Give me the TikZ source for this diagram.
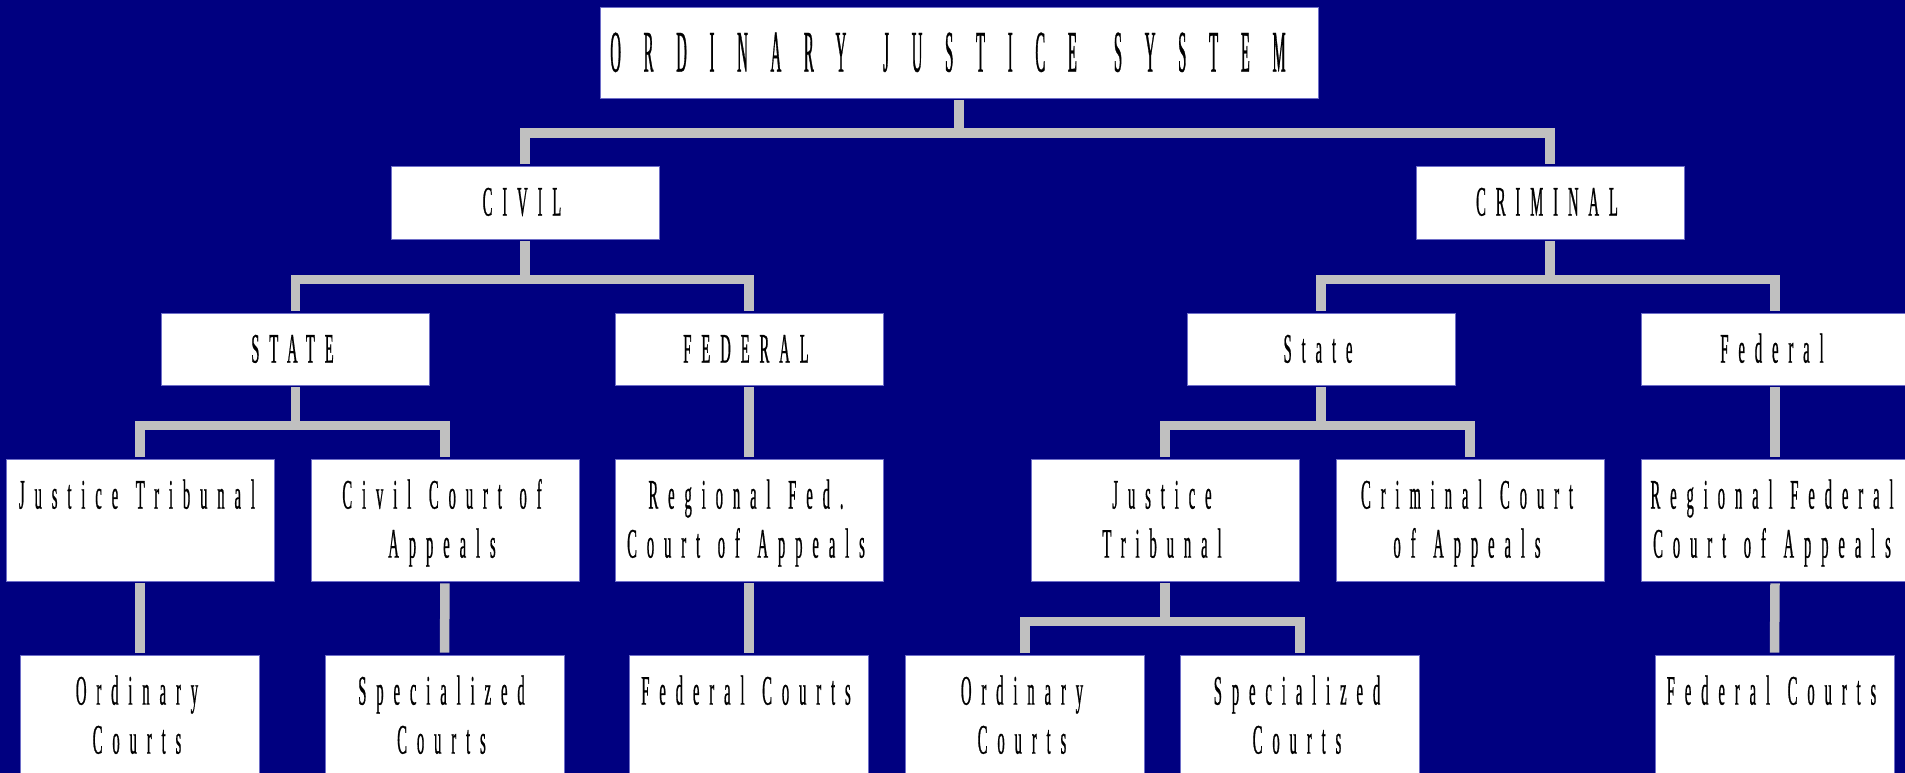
\documentclass[tikz,border=0pt]{standalone}
\usepackage{fontspec}
\setmainfont{Liberation Serif}
\newfontfamily\smallf[FakeStretch=0.35, LetterSpace=23.5, WordSpace=1.3, FakeBold=0.5]{Liberation Serif}
\newfontfamily\bigf[FakeStretch=0.25, LetterSpace=38.5, WordSpace=1.4, FakeBold=0.5]{Liberation Serif}
\definecolor{navybg}{RGB}{0,0,128}
\definecolor{silverline}{RGB}{192,192,192}
\definecolor{boxedge}{RGB}{110,110,200}
\begin{document}
\begin{tikzpicture}[x=1pt,y=-1pt,
  box/.style={fill=white, draw=boxedge, line width=0.8pt, inner sep=0pt, minimum width=268pt},
  midbox/.style={box, minimum height=73pt},
  tallbox/.style={box, minimum height=122pt},
  lowbox/.style={box, minimum width=239pt, minimum height=135pt},
  conn/.style={draw=silverline, line width=9.5pt, line join=miter, line cap=butt, shorten <=2pt, shorten >=2pt},
  lbl/.style={anchor=base, inner sep=0pt, font=\smallf\fontsize{42}{49}\selectfont},
  toplbl/.style={anchor=base, inner sep=0pt, font=\bigf\fontsize{59}{70}\selectfont}]
\useasboundingbox (0,0) rectangle (1905,773);
\clip (0,0) rectangle (1905,773);
\fill[navybg] (0,0) rectangle (1905,773);

% boxes
\node[box, minimum width=718pt, minimum height=91pt] (top) at (959,52.5) {};
\node[midbox] (civil) at (525,202.5) {};
\node[midbox] (criminal) at (1550,202.5) {};
\node[midbox, minimum height=72pt] (cstate) at (295.5,349) {};
\node[midbox, minimum height=72pt] (cfed) at (749,349) {};
\node[midbox, minimum height=72pt] (kstate) at (1321,349) {};
\node[midbox, minimum height=72pt] (kfed) at (1775,349) {};
\node[tallbox] (cjt) at (140,520) {};
\node[tallbox] (ccca) at (445,520) {};
\node[tallbox] (crf) at (749,520) {};
\node[tallbox] (kjt) at (1165,520) {};
\node[tallbox] (kcca) at (1470,520) {};
\node[tallbox] (krf) at (1775,520) {};
\node[lowbox] (cord) at (140,722.5) {};
\node[lowbox] (cspec) at (444.5,722.5) {};
\node[lowbox] (cfc) at (749,722.5) {};
\node[lowbox] (kord) at (1025,722.5) {};
\node[lowbox] (kspec) at (1300,722.5) {};
\node[lowbox] (kfc) at (1774.5,722.5) {};

% labels
\path (top.north) ++(-11,65) node[toplbl] (topt) {ORDINARY JUSTICE SYSTEM};
\path (civil.north) ++(-3,50) node[lbl] (civilt) {CIVIL};
\path (criminal.north) ++(-3,50) node[lbl] (criminalt) {CRIMINAL};
\path (cstate.north) ++(-3,50) node[lbl] (cstatet) {STATE};
\path (cfed.north) ++(-3,50) node[lbl] (cfedt) {FEDERAL};
\path (kstate.north) ++(-3,50) node[lbl] (kstatet) {State};
\path (kfed.north) ++(-3,50) node[lbl] (kfedt) {Federal};
\path (cjt.north) ++(-3,50) node[lbl] (cjta) {Justice Tribunal};
\path (ccca.north) ++(-3,50) node[lbl] (cccaa) {Civil Court of};
\path (ccca.north) ++(-3,99) node[lbl] (cccab) {Appeals};
\path (crf.north) ++(-3,50) node[lbl] (crfa) {Regional Fed.};
\path (crf.north) ++(-3,99) node[lbl] (crfb) {Court of Appeals};
\path (kjt.north) ++(-3,50) node[lbl] (kjta) {Justice};
\path (kjt.north) ++(-3,99) node[lbl] (kjtb) {Tribunal};
\path (kcca.north) ++(-3,50) node[lbl] (kccaa) {Criminal Court};
\path (kcca.north) ++(-3,99) node[lbl] (kccab) {of Appeals};
\path (krf.north) ++(-3,50) node[lbl] (krfa) {Regional Federal};
\path (krf.north) ++(-3,99) node[lbl] (krfb) {Court of Appeals};
\path (cord.north) ++(-3,50) node[lbl] (corda) {Ordinary};
\path (cord.north) ++(-3,99) node[lbl] (cordb) {Courts};
\path (cspec.north) ++(-3,50) node[lbl] (cspeca) {Specialized};
\path (cspec.north) ++(-3,99) node[lbl] (cspecb) {Courts};
\path (cfc.north) ++(-3,50) node[lbl] (cfca) {Federal Courts};
\path (kord.north) ++(-3,50) node[lbl] (korda) {Ordinary};
\path (kord.north) ++(-3,99) node[lbl] (kordb) {Courts};
\path (kspec.north) ++(-3,50) node[lbl] (kspeca) {Specialized};
\path (kspec.north) ++(-3,99) node[lbl] (kspecb) {Courts};
\path (kfc.north) ++(-3,50) node[lbl] (kfca) {Federal Courts};

% connectors
\draw[conn] (top.south) -- ++(0,34.5) -| (civil.north);
\draw[conn] (top.south) -- ++(0,34.5) -| (criminal.north);
\draw[conn] (civil.south) -- ++(0,40) -| (cstate.north);
\draw[conn] (civil.south) -- ++(0,40) -| (cfed.north);
\draw[conn] (criminal.south) -- ++(0,40) -| (kstate.north);
\draw[conn] (criminal.south) -- ++(0,40) -| (kfed.north);
\draw[conn] (cstate.south) -- ++(0,40) -| (cjt.north);
\draw[conn] (cstate.south) -- ++(0,40) -| (ccca.north);
\draw[conn] (kstate.south) -- ++(0,40) -| (kjt.north);
\draw[conn] (kstate.south) -- ++(0,40) -| (kcca.north);
\draw[conn] (cfed.south) -- (crf.north);
\draw[conn] (kfed.south) -- (krf.north);
\draw[conn] (cjt.south) -- (cord.north);
\draw[conn] (ccca.south) -- (cspec.north);
\draw[conn] (crf.south) -- (cfc.north);
\draw[conn] (krf.south) -- (kfc.north);
\draw[conn] (kjt.south) -- ++(0,40) -| (kord.north);
\draw[conn] (kjt.south) -- ++(0,40) -| (kspec.north);
\end{tikzpicture}
\end{document}
